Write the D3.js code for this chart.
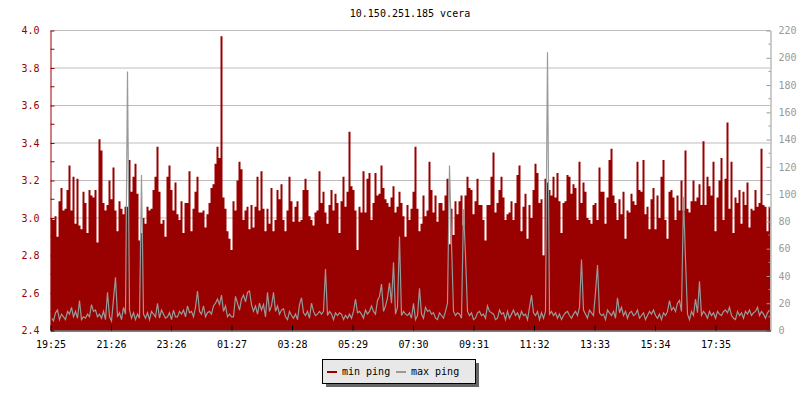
<!DOCTYPE html>
<html><head><meta charset="utf-8">
<script src="https://cdn.jsdelivr.net/npm/d3@7"></script>
<style>
body{margin:0;background:#fff}
svg{display:block}
text{font-family:"DejaVu Sans Mono","Liberation Mono",monospace;font-size:10px}
</style>
</head><body>
<svg id="chart" width="800" height="400"></svg>
<script>
// ---------- data ----------
const chartTitle = "10.150.251.185 vcera";
const startTime = "19:25";          // first sample
const sampleMinutes = 4;            // spacing between samples
const spanMinutes = 1440;           // 24 h shown
const tickLabels = ["19:25","21:26","23:26","01:27","03:28","05:29","07:30","09:31","11:32","13:33","15:34","17:35"];
const leftTicks = [2.4,2.6,2.8,3.0,3.2,3.4,3.6,3.8,4.0];
const leftMinorTicks = [2.5,2.7,2.9,3.1,3.3,3.5,3.7,3.9];
const rightTicks = [0,20,40,60,80,100,120,140,160,180,200,220];
const rightMinorTicks = [10,30,50,70,90,110,130,150,170,190,210];
const seriesNames = ["min ping","max ping"];

const minPing = [
3.00,2.99,3.01,2.90,3.09,3.16,3.04,3.05,3.15,3.28,
3.04,3.22,2.97,3.21,2.96,2.94,3.14,3.08,2.92,3.15,
3.12,3.11,3.15,2.87,3.42,3.36,3.08,3.04,3.07,3.20,
3.10,3.27,3.04,2.93,3.09,3.05,3.02,3.06,3.06,3.31,
3.14,3.22,3.29,3.13,2.88,2.92,3.00,2.97,3.06,3.04,
3.05,3.15,3.22,3.38,3.14,2.97,2.99,2.90,3.22,3.28,
3.15,3.04,3.19,3.02,2.99,3.09,2.92,3.08,3.08,3.25,
2.93,3.05,3.14,3.22,3.03,3.03,3.04,2.95,3.02,3.08,
3.16,3.18,3.29,3.38,3.32,3.97,3.11,3.05,2.93,2.89,
2.83,3.09,3.04,3.20,3.30,3.26,2.99,3.04,3.06,2.94,
3.07,2.95,3.06,3.22,3.04,3.25,3.05,2.93,3.05,2.97,
3.16,2.93,2.99,3.15,3.10,3.18,2.99,2.93,3.04,3.22,

3.09,2.98,3.06,3.09,2.98,2.99,3.15,3.21,3.15,3.01,
2.99,2.96,3.03,3.04,3.25,3.08,3.14,3.03,2.97,3.07,
3.15,3.04,3.13,3.08,2.92,3.09,3.22,3.06,3.14,3.46,
3.17,3.15,3.04,2.83,3.06,3.03,3.25,3.03,3.21,3.24,
2.99,3.08,3.24,3.12,3.13,3.28,3.16,3.10,3.08,3.06,
3.11,3.17,3.03,3.06,3.14,3.08,3.01,2.90,3.07,2.99,
3.05,3.14,3.38,3.05,2.93,2.97,3.12,3.01,3.04,3.30,
3.15,3.03,3.12,2.98,3.08,3.08,3.04,3.12,3.21,2.86,
3.05,2.91,3.09,3.02,3.09,3.12,2.96,3.12,3.22,3.16,
3.15,3.02,3.09,3.21,3.07,3.07,2.99,2.88,3.07,3.07,
3.22,3.35,3.03,3.08,3.15,3.22,3.11,2.99,3.02,3.03,
3.09,2.99,3.08,3.23,3.28,2.93,3.06,3.13,2.89,3.07,

3.00,3.15,3.29,3.24,3.08,3.10,2.80,3.21,3.19,3.15,
3.12,3.22,3.11,3.24,3.09,2.92,3.08,3.09,3.23,3.22,
3.13,3.18,3.16,2.99,3.30,3.08,3.19,3.14,3.00,2.99,
2.97,3.07,3.08,2.99,3.27,3.14,3.14,2.97,3.11,3.31,
3.37,3.12,3.08,2.99,3.10,3.02,3.14,2.89,3.04,3.03,
3.13,3.09,3.07,3.30,3.15,3.14,3.31,3.02,3.06,2.94,
3.10,3.16,2.94,3.12,3.00,3.22,3.31,2.99,2.89,3.14,
3.15,3.11,2.99,3.12,3.04,3.20,3.04,3.36,3.05,3.03,
3.09,3.20,3.09,3.11,3.18,3.07,3.41,3.07,3.22,3.17,
3.12,3.30,2.93,3.11,3.20,3.32,2.99,3.21,3.51,3.05,
3.30,2.92,3.11,3.08,3.15,2.97,3.14,3.07,3.19,2.95,
3.05,3.04,3.15,3.06,3.08,3.37,3.07,3.06,2.93,3.06
];

const maxPing = [
9,7,13,15,8,12,10,8,14,12,
17,10,14,9,22,8,10,9,12,10,
19,14,15,10,12,9,14,8,28,10,
7,23,39,10,13,8,17,12,190,15,
9,13,8,12,9,114,12,9,13,8,
14,12,10,20,9,15,12,9,10,13,
8,15,10,10,14,12,15,10,18,13,
14,10,17,29,14,12,18,10,13,14,
12,18,20,23,19,26,14,18,10,12,
10,10,25,20,15,23,26,21,28,29,
19,14,18,12,20,15,19,10,28,14,
18,28,14,18,12,15,16,10,8,14,

11,9,12,8,19,24,13,11,14,9,
20,14,11,12,14,12,14,45,11,14,
12,8,13,11,13,12,8,11,9,12,
9,14,23,13,14,12,9,15,12,14,
18,14,12,22,25,34,14,18,24,35,
20,50,12,17,69,11,14,12,11,13,
9,20,8,11,31,12,9,17,14,15,
12,13,9,8,13,11,9,14,20,121,
64,14,11,13,12,9,89,55,14,11,
13,8,9,13,14,11,12,9,18,14,
13,12,8,9,15,12,13,8,14,9,
12,15,11,13,9,14,11,12,8,17,

26,13,11,14,8,13,9,14,204,12,
14,11,13,9,12,8,11,13,14,11,
9,12,14,11,17,52,15,12,9,15,
13,11,28,48,13,11,12,8,15,13,
11,14,9,24,13,17,11,14,9,13,
14,11,12,15,9,11,13,8,11,14,
12,15,11,9,12,8,13,11,14,22,
15,17,14,20,22,14,98,52,12,8,
14,11,23,13,36,11,14,12,9,14,
11,13,9,14,12,11,14,15,13,17,
11,9,8,14,11,13,9,14,12,15,
11,13,14,17,11,14,12,9,13,15
];

// ---------- layout ----------
const plot = {left: 50.5, right: 770.5, top: 30.5, bottom: 330.5};
const red = "#990000", gray = "#999999", gridColor = "#bdbdbd";

const svg = d3.select("#chart");

const base = new Date(2024, 0, 1, +startTime.split(":")[0], +startTime.split(":")[1]);
const addMin = (d, m) => new Date(d.getTime() + m * 60000);
const tEnd = addMin(base, spanMinutes);

const x = d3.scaleTime().domain([base, tEnd]).range([plot.left, plot.right]);
const yL = d3.scaleLinear().domain([2.4, 4.0]).range([plot.bottom, plot.top]);
const yR = d3.scaleLinear().domain([0, 220]).range([plot.bottom, plot.top]);

const tickDates = tickLabels.map(s => {
  const [h, m] = s.split(":").map(Number);
  let d = new Date(2024, 0, 1, h, m);
  if (d < base) d = new Date(2024, 0, 2, h, m);
  return d;
});

const minData = minPing.map((v, i) => ({t: addMin(base, i * sampleMinutes), v}));
minData.push({t: addMin(base, minPing.length * sampleMinutes), v: minPing[minPing.length - 1]});
const maxData = maxPing.map((v, i) => ({t: addMin(base, (i + 0.5) * sampleMinutes), v}));

// gridlines (left axis)
svg.append("g").selectAll("line").data(leftTicks.filter(v => v > 2.4)).join("line")
  .attr("x1", plot.left).attr("x2", plot.right)
  .attr("y1", d => yL(d)).attr("y2", d => yL(d))
  .attr("stroke", gridColor).attr("stroke-width", 1);

// clip
svg.append("clipPath").attr("id", "clip").append("rect")
  .attr("x", plot.left).attr("y", plot.top - 1)
  .attr("width", plot.right - plot.left).attr("height", plot.bottom - plot.top + 1);

// min ping area
svg.append("path").datum(minData)
  .attr("clip-path", "url(#clip)")
  .attr("fill", red)
  .attr("d", d3.area().curve(d3.curveStepAfter)
    .x(d => x(d.t)).y0(yL(2.4)).y1(d => yL(d.v)));

// max ping line
svg.append("path").datum(maxData)
  .attr("clip-path", "url(#clip)")
  .attr("fill", "none").attr("stroke", gray).attr("stroke-width", 1.2)
  .attr("stroke-linejoin", "miter")
  .attr("d", d3.line().curve(d3.curveLinear)
    .x(d => x(d.t)).y(d => yR(d.v)));

// left axis
const gL = svg.append("g").attr("transform", `translate(${plot.left},0)`);
gL.call(d3.axisLeft(yL).tickValues(leftTicks).tickFormat(d3.format(".1f")).tickSizeInner(-4).tickSizeOuter(0).tickPadding(11));
gL.select(".domain").attr("stroke", red);
gL.selectAll(".tick line").attr("stroke", red);
gL.selectAll(".tick text").attr("fill", red);
gL.attr("font-family", null).attr("font-size", null);
svg.append("g").selectAll("line").data(leftMinorTicks).join("line")
  .attr("x1", plot.left).attr("x2", plot.left + 4)
  .attr("y1", d => yL(d)).attr("y2", d => yL(d)).attr("stroke", red);

// right axis
const gR = svg.append("g").attr("transform", `translate(${plot.right},0)`);
gR.call(d3.axisRight(yR).tickValues(rightTicks).tickSizeInner(-4).tickSizeOuter(0).tickPadding(8));
gR.select(".domain").attr("stroke", gray);
gR.selectAll(".tick line").attr("stroke", gray);
gR.selectAll(".tick text").attr("fill", gray);
gR.attr("font-family", null).attr("font-size", null);
svg.append("g").selectAll("line").data(rightMinorTicks).join("line")
  .attr("x1", plot.right - 2).attr("x2", plot.right)
  .attr("y1", d => yR(d)).attr("y2", d => yR(d)).attr("stroke", gray);

// bottom axis
const gB = svg.append("g").attr("transform", `translate(0,${plot.bottom})`);
gB.call(d3.axisBottom(x).tickValues(tickDates).tickFormat(d3.timeFormat("%H:%M")).tickSizeInner(-5).tickSizeOuter(0).tickPadding(10));
gB.select(".domain").attr("stroke", "#000");
gB.selectAll(".tick line").attr("stroke", "#000");
gB.selectAll(".tick text").attr("fill", "#000");
gB.attr("font-family", null).attr("font-size", null);

// title
svg.append("text").attr("x", 410).attr("y", 13).attr("dy", "0.35em")
  .attr("text-anchor", "middle").attr("fill", "#000").text(chartTitle);

// legend
const lg = svg.append("g");
lg.append("rect").attr("x", 326).attr("y", 363).attr("width", 153).attr("height", 24).attr("fill", "#666");
lg.append("rect").attr("x", 322.5).attr("y", 359.5).attr("width", 153).attr("height", 24)
  .attr("fill", "#e8e8e8").attr("stroke", "#000");
const legendColors = [red, gray];
const legendX = [327, 396];
seriesNames.forEach((name, i) => {
  lg.append("line").attr("x1", legendX[i]).attr("x2", legendX[i] + 10)
    .attr("y1", 372).attr("y2", 372).attr("stroke", legendColors[i]).attr("stroke-width", 2);
  lg.append("text").attr("x", legendX[i] + 15).attr("y", 372).attr("dy", "0.3em")
    .attr("fill", "#000").text(name);
});
</script>
</body></html>
